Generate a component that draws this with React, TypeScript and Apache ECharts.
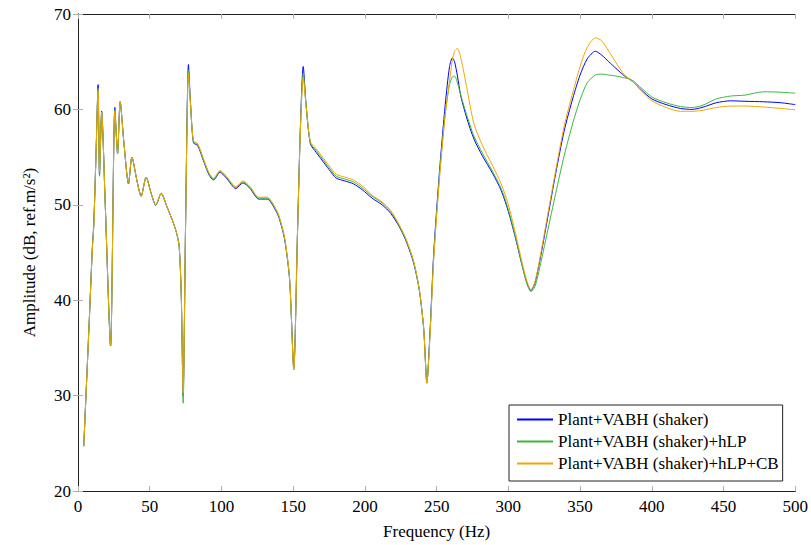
import React, { useEffect, useRef } from "react";
import * as echarts from "echarts";

const freqs = [
  4, 6, 8, 10, 11, 12.5, 14, 15, 16.5, 19,
  22.7, 25.7, 27.6, 29.4, 32, 35.2, 37.6, 41, 44, 47.5,
  51, 54.2, 58, 62, 66, 68.6, 70.5, 72, 73.3, 75,
  77, 78.5, 80.5, 83.5, 88, 91.5, 94.5, 99, 104, 110,
  115, 120, 126, 132, 136, 140, 144, 147.5, 150.4, 153,
  155, 157, 159, 162, 166, 170, 175, 180, 186, 192,
  198, 205, 212, 218, 224, 229, 234, 238, 241, 243.2,
  245.5, 248, 252, 256, 259, 261, 262.5, 264.5, 267, 271,
  276, 282, 289, 295, 300, 305, 310, 313, 315.7, 318.5,
  322, 327, 333, 339, 345, 350, 355, 360.7, 365, 370,
  375, 381, 386, 393, 400, 410, 420, 428, 435, 445,
  455, 465, 478, 490, 500,
];

const plantVabh = [
  24.7, 31.5, 38.3, 45.5, 48.0, 55.0, 62.6, 53.2, 59.8, 50.0,
  35.2, 60.2, 55.4, 60.8, 56.5, 52.2, 55.0, 52.6, 50.9, 52.9,
  51.2, 49.95, 51.2, 49.8, 48.3, 47.1, 45.7, 40.5, 30.0, 48.0,
  64.7, 60.5, 56.5, 56.2, 54.4, 53.1, 52.6, 53.4, 52.7, 51.7,
  52.3, 51.7, 50.6, 50.6, 49.9, 48.7, 46.4, 42.2, 32.9, 47.0,
  58.0, 64.5, 60.5, 56.4, 55.5, 54.7, 53.7, 52.8, 52.5, 52.2,
  51.6, 50.7, 50.0, 49.1, 47.7, 46.1, 43.9, 41.0, 37.0, 31.4,
  37.0, 45.0, 53.5, 60.5, 64.5, 65.4, 65.0, 63.5, 61.3, 59.1,
  56.9, 55.1, 53.3, 51.5, 49.3, 46.5, 43.4, 41.8, 41.0, 41.8,
  44.2, 48.3, 53.3, 57.8, 61.2, 63.6, 65.3, 66.1, 65.7, 65.0,
  64.3, 63.5, 63.0, 62.0, 61.1, 60.5, 60.1, 60.0, 60.2, 60.7,
  60.9, 60.85, 60.8, 60.7, 60.5,
];

const plantVabhHlp = [
  24.7, 31.5, 38.5, 45.5, 47.8, 55.0, 62.2, 53.0, 59.7, 50.0,
  35.2, 60.0, 55.4, 60.8, 56.5, 52.2, 55.0, 52.6, 50.9, 52.9,
  51.2, 49.95, 51.2, 49.8, 48.3, 47.1, 45.7, 40.3, 29.2, 48.0,
  64.1, 60.4, 56.6, 56.3, 54.5, 53.2, 52.7, 53.5, 52.8, 51.8,
  52.4, 51.8, 50.7, 50.7, 50.0, 48.8, 46.5, 42.2, 32.7, 47.0,
  57.8, 63.8, 60.4, 56.5, 55.7, 54.9, 53.9, 53.0, 52.7, 52.4,
  51.8, 50.9, 50.2, 49.3, 47.8, 46.2, 44.0, 41.0, 37.0, 31.3,
  36.8, 44.6, 53.0, 59.5, 62.6, 63.4, 63.5, 62.8, 61.4, 59.4,
  57.2, 55.4, 53.5, 51.7, 49.5, 46.6, 43.4, 41.7, 40.9, 41.4,
  43.5, 47.0, 51.2, 55.2, 58.6, 61.0, 62.8, 63.6, 63.7, 63.6,
  63.5, 63.3, 63.1, 62.2, 61.3, 60.7, 60.3, 60.2, 60.4, 61.1,
  61.4, 61.5, 61.85, 61.8, 61.7,
];

const plantVabhHlpCb = [
  24.7, 31.5, 38.3, 45.3, 47.7, 55.0, 62.0, 53.5, 59.7, 50.0,
  35.3, 59.8, 55.5, 60.8, 56.5, 52.3, 55.0, 52.6, 50.9, 52.9,
  51.2, 50.0, 51.2, 49.8, 48.3, 47.1, 45.7, 40.6, 30.3, 48.0,
  63.8, 60.4, 56.7, 56.4, 54.6, 53.3, 52.8, 53.6, 52.9, 51.9,
  52.5, 51.9, 50.8, 50.8, 50.1, 48.9, 46.6, 42.3, 32.7, 47.0,
  57.6, 63.4, 60.4, 56.6, 55.9, 55.1, 54.1, 53.2, 52.9, 52.6,
  52.0, 51.0, 50.3, 49.4, 47.9, 46.3, 44.1, 41.1, 37.0, 31.3,
  36.6, 44.4, 52.8, 59.5, 63.0, 65.2, 66.1, 66.4, 65.3, 62.3,
  58.5, 56.2, 54.1, 52.2, 50.0, 47.0, 43.7, 42.0, 41.1, 41.9,
  44.4, 48.6, 53.6, 58.3, 61.8, 64.5, 66.5, 67.5, 67.2, 66.1,
  64.9, 63.6, 63.0, 61.9, 60.9, 60.2, 59.8, 59.8, 59.9, 60.2,
  60.35, 60.35, 60.25, 60.1, 59.96,
];

const seriesNames = [
  "Plant+VABH (shaker)",
  "Plant+VABH (shaker)+hLP",
  "Plant+VABH (shaker)+hLP+CB",
];
const seriesColors = ["#0000ff", "#3cb83c", "#f0a800"];
const seriesValues = [plantVabh, plantVabhHlp, plantVabhHlpCb];

const FONT = "Liberation Serif";
const FS = 17;

export default function App() {
  const ref = useRef<HTMLDivElement>(null);
  useEffect(() => {
    if (!ref.current) return;
    const chart = echarts.init(ref.current, null, { renderer: "svg" });
    const tickStyle = { show: true, inside: true, length: 5, lineStyle: { color: "#b0b0b0", width: 1 } };
    const axisLineStyle = { show: true, lineStyle: { color: "#222", width: 1 } };
    chart.setOption({
      animation: false,
      backgroundColor: "#fff",
      textStyle: { fontFamily: FONT, color: "#000" },
      grid: { left: 78, right: 14, top: 14, bottom: 53, containLabel: false },
      legend: {
        data: seriesNames,
        orient: "vertical",
        left: 509,
        top: 405,
        padding: [6, 4, 9, 8],
        itemGap: 5,
        itemWidth: 36,
        itemHeight: 2,
        icon: "rect",
        borderColor: "#222",
        borderWidth: 1,
        backgroundColor: "#fff",
        textStyle: { fontFamily: FONT, fontSize: FS, color: "#000" },
      },
      xAxis: [
        {
          type: "value",
          min: 0,
          max: 500,
          interval: 50,
          name: "Frequency (Hz)",
          nameLocation: "middle",
          nameGap: 32,
          nameTextStyle: { fontFamily: FONT, fontSize: FS, color: "#000" },
          axisLine: axisLineStyle,
          axisTick: tickStyle,
          axisLabel: { fontFamily: FONT, fontSize: FS, color: "#000", margin: 7 },
          splitLine: { show: false },
        },
        {
          type: "value",
          position: "top",
          min: 0,
          max: 500,
          interval: 50,
          axisLine: axisLineStyle,
          axisTick: tickStyle,
          axisLabel: { show: false },
          splitLine: { show: false },
        },
      ],
      yAxis: [
        {
          type: "value",
          min: 20,
          max: 70,
          interval: 10,
          name: "Amplitude (dB, ref.m/s²)",
          nameLocation: "middle",
          nameGap: 40,
          nameRotate: 90,
          nameTextStyle: { fontFamily: FONT, fontSize: FS, color: "#000" },
          axisLine: axisLineStyle,
          axisTick: tickStyle,
          axisLabel: { fontFamily: FONT, fontSize: FS, color: "#000", margin: 7 },
          splitLine: { show: false },
        },
        {
          type: "value",
          position: "right",
          min: 20,
          max: 70,
          interval: 10,
          axisLine: axisLineStyle,
          axisTick: tickStyle,
          axisLabel: { show: false },
          splitLine: { show: false },
        },
      ],
      series: seriesNames.map((name, i) => ({
        name,
        type: "line",
        xAxisIndex: 0,
        yAxisIndex: 0,
        data: freqs.map((f, j) => [f, seriesValues[i][j]]),
        symbol: "none",
        smooth: 0.25,
        lineStyle: { color: seriesColors[i], width: 1 },
        itemStyle: { color: seriesColors[i] },
        z: 2 + i,
      })),
    });
    return () => chart.dispose();
  }, []);
  return <div ref={ref} style={{ width: 811, height: 545, position: "absolute", left: 0, top: 0 }} />;
}
